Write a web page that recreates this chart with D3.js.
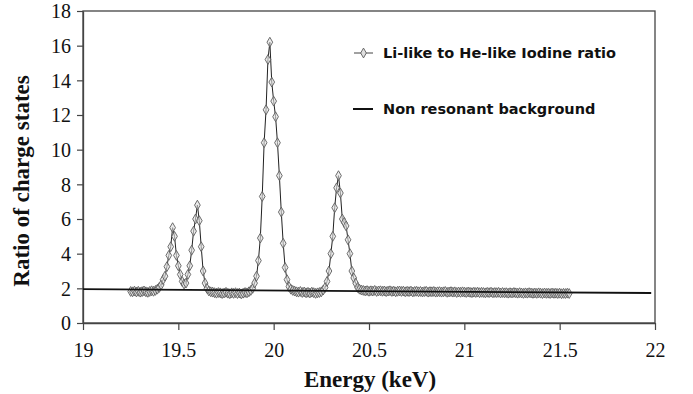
<!DOCTYPE html>
<html>
<head>
<meta charset="utf-8">
<script src="https://cdn.jsdelivr.net/npm/d3@7"></script>
<style>
  html, body { margin: 0; padding: 0; background: #fff; }
  svg { display: block; }
</style>
</head>
<body>
<svg id="chart" width="693" height="394"></svg>
<script>
// ---- data ----
const energies = [
  19.25,19.26,19.27,19.28,19.29,19.30,19.31,19.32,19.33,19.34,
  19.35,19.36,19.37,19.38,19.39,19.40,19.41,19.42,19.43,19.44,
  19.45,19.46,19.47,19.48,19.49,19.50,19.51,19.52,19.53,19.54,
  19.55,19.56,19.57,19.58,19.59,19.60,19.61,19.62,19.63,19.64,
  19.65,19.66,19.67,19.68,19.69,19.70,19.71,19.72,19.73,19.74,
  19.75,19.76,19.77,19.78,19.79,19.80,19.81,19.82,19.83,19.84,
  19.85,19.86,19.87,19.88,19.89,19.90,19.91,19.92,19.93,19.94,
  19.95,19.96,19.97,19.98,19.99,20.00,20.01,20.02,20.03,20.04,
  20.05,20.06,20.07,20.08,20.09,20.10,20.11,20.12,20.13,20.14,
  20.15,20.16,20.17,20.18,20.19,20.20,20.21,20.22,20.23,20.24,
  20.25,20.26,20.27,20.28,20.29,20.30,20.31,20.32,20.33,20.34,
  20.35,20.36,20.37,20.38,20.39,20.40,20.41,20.42,20.43,20.44,
  20.45,20.46,20.47,20.48,20.49,20.50,20.51,20.52,20.53,20.54,
  20.55,20.56,20.57,20.58,20.59,20.60,20.61,20.62,20.63,20.64,
  20.65,20.66,20.67,20.68,20.69,20.70,20.71,20.72,20.73,20.74,
  20.75,20.76,20.77,20.78,20.79,20.80,20.81,20.82,20.83,20.84,
  20.85,20.86,20.87,20.88,20.89,20.90,20.91,20.92,20.93,20.94,
  20.95,20.96,20.97,20.98,20.99,21.00,21.01,21.02,21.03,21.04,
  21.05,21.06,21.07,21.08,21.09,21.10,21.11,21.12,21.13,21.14,
  21.15,21.16,21.17,21.18,21.19,21.20,21.21,21.22,21.23,21.24,
  21.25,21.26,21.27,21.28,21.29,21.30,21.31,21.32,21.33,21.34,
  21.35,21.36,21.37,21.38,21.39,21.40,21.41,21.42,21.43,21.44,
  21.45,21.46,21.47,21.48,21.49,21.50,21.51,21.52,21.53,21.54,
  21.55
];
const ratios = [
  // 19.25 - 19.39
  1.82,1.80,1.84,1.79,1.83,1.78,1.81,1.85,1.80,1.77,1.82,1.86,1.83,1.88,1.95,
  // 19.40 - 19.67
  2.05,2.2,2.5,2.7,3.25,3.9,4.4,5.5,5.0,3.9,3.3,2.8,2.4,2.25,2.3,2.8,3.3,4.2,5.3,6.0,
  6.8,5.9,4.4,3.0,2.3,2.0,1.85,1.8,
  // 19.68 - 19.88
  1.78,1.75,1.72,1.76,1.74,1.70,1.73,1.77,1.72,1.69,1.74,1.71,1.75,1.70,1.73,1.68,1.72,1.76,1.74,1.80,1.88,
  // 19.89 - 20.10
  2.0,2.3,2.7,3.6,4.9,7.3,10.4,12.3,15.2,16.2,13.9,12.8,11.9,10.4,8.5,6.4,4.6,3.2,2.5,2.1,1.95,1.88,
  // 20.11 - 20.26
  1.84,1.80,1.78,1.82,1.76,1.79,1.74,1.77,1.73,1.78,1.75,1.71,1.74,1.76,1.80,1.90,
  // 20.27 - 20.46
  2.05,2.4,3.0,4.0,5.0,6.65,7.8,8.5,7.5,6.0,5.8,5.6,4.8,4.0,3.0,2.6,2.3,2.05,1.95,1.9,
  // 20.47 - 21.55
  1.88,1.85,1.87,1.83,1.86,1.84,1.88,1.82,1.85,1.86,
  1.83,1.85,1.81,1.84,1.86,1.82,1.84,1.80,1.83,1.85,
  1.82,1.84,1.80,1.83,1.81,1.84,1.79,1.82,1.83,1.80,
  1.82,1.79,1.81,1.83,1.78,1.81,1.80,1.82,1.78,1.80,
  1.81,1.78,1.80,1.82,1.77,1.79,1.81,1.78,1.80,1.76,
  1.79,1.77,1.80,1.78,1.76,1.79,1.77,1.75,1.78,1.76,
  1.78,1.75,1.77,1.76,1.74,1.77,1.75,1.78,1.74,1.76,
  1.75,1.77,1.73,1.76,1.74,1.75,1.72,1.75,1.73,1.76,
  1.74,1.72,1.75,1.73,1.71,1.74,1.72,1.75,1.73,1.71,
  1.73,1.71,1.74,1.72,1.70,1.73,1.71,1.72,1.70,1.73,
  1.71,1.72,1.70,1.72,1.69,1.71,1.70,1.72,1.70
];
const backgroundEnergies = [19.0, 21.98];
const backgroundValues = [1.95, 1.73];
const xTicks = [19, 19.5, 20, 20.5, 21, 21.5, 22];
const yTicks = [0, 2, 4, 6, 8, 10, 12, 14, 16, 18];
const seriesNames = ["Li-like to He-like Iodine ratio", "Non resonant background"];
const axisTitles = { x: "Energy (keV)", y: "Ratio of charge states" };

// ---- drawing ----
const svg = d3.select("#chart");
const m = { left: 83, right: 655, top: 11, bottom: 323 };
const x = d3.scaleLinear().domain([19, 22]).range([m.left, m.right]);
const y = d3.scaleLinear().domain([0, 18]).range([m.bottom, m.top]);

const serif = "'Liberation Serif', 'Times New Roman', serif";
const sans = "'DejaVu Sans', sans-serif";

// frame
svg.append("rect")
  .attr("x", m.left).attr("y", m.top)
  .attr("width", m.right - m.left).attr("height", m.bottom - m.top)
  .attr("fill", "none").attr("stroke", "#444").attr("stroke-width", 1.3);

const xAxis = svg.append("g")
  .attr("transform", `translate(0,${m.bottom})`)
  .call(d3.axisBottom(x).tickValues(xTicks).tickSize(7).tickSizeOuter(0).tickFormat(d3.format("")));
const yAxis = svg.append("g")
  .attr("transform", `translate(${m.left},0)`)
  .call(d3.axisLeft(y).tickValues(yTicks).tickSize(6).tickSizeOuter(0));

[xAxis, yAxis].forEach(g => {
  g.select(".domain").attr("stroke", "#444").attr("stroke-width", 1.3);
  g.selectAll(".tick line").attr("stroke", "#444").attr("stroke-width", 1.2);
  g.selectAll(".tick text").attr("fill", "#111")
    .style("font-family", serif).style("font-size", "20px");
});
xAxis.selectAll(".tick text").attr("y", 10).attr("dy", "1.2em");
yAxis.selectAll(".tick text").attr("x", -12).attr("dy", "0.34em");

// titles
svg.append("text")
  .attr("x", (m.left + m.right) / 2 + 1).attr("y", 387)
  .attr("text-anchor", "middle")
  .style("font-family", serif).style("font-weight", "bold").style("font-size", "23px")
  .attr("fill", "#111")
  .text(axisTitles.x);
svg.append("text")
  .attr("transform", `translate(29,181) rotate(-90)`)
  .attr("text-anchor", "middle")
  .style("font-family", serif).style("font-weight", "bold").style("font-size", "23px")
  .attr("fill", "#111")
  .text(axisTitles.y);

// data series
const pts = energies.map((e, i) => [e, ratios[i]]);
const line = d3.line().x(d => x(d[0])).y(d => y(d[1]));
svg.append("path").datum(pts)
  .attr("d", line).attr("fill", "none")
  .attr("stroke", "#222").attr("stroke-width", 1);

const diamond = d3.symbol().type(d3.symbolDiamond).size(28);
svg.append("g").selectAll("path").data(pts).join("path")
  .attr("transform", d => `translate(${x(d[0])},${y(d[1])})`)
  .attr("d", diamond)
  .attr("fill", "#e0e0e0").attr("fill-opacity", 0.6)
  .attr("stroke", "#5c5c5c").attr("stroke-width", 0.9);

// background line
const bg = backgroundEnergies.map((e, i) => [e, backgroundValues[i]]);
svg.append("path").datum(bg)
  .attr("d", line).attr("fill", "none")
  .attr("stroke", "#111").attr("stroke-width", 1.8);

// legend
const lg = svg.append("g");
lg.append("line").attr("x1", 354).attr("x2", 373).attr("y1", 53).attr("y2", 53)
  .attr("stroke", "#444").attr("stroke-width", 1);
lg.append("path").attr("transform", "translate(363.5,53)").attr("d", diamond)
  .attr("fill", "#e0e0e0").attr("stroke", "#5c5c5c").attr("stroke-width", 0.9);
lg.append("text").attr("x", 383).attr("y", 58)
  .style("font-family", sans).style("font-weight", "bold").style("font-size", "14.5px")
  .attr("fill", "#111").text(seriesNames[0]);
lg.append("line").attr("x1", 353).attr("x2", 373).attr("y1", 109).attr("y2", 109)
  .attr("stroke", "#111").attr("stroke-width", 2);
lg.append("text").attr("x", 383).attr("y", 114)
  .style("font-family", sans).style("font-weight", "bold").style("font-size", "14.5px")
  .attr("fill", "#111").text(seriesNames[1]);
</script>
</body>
</html>
